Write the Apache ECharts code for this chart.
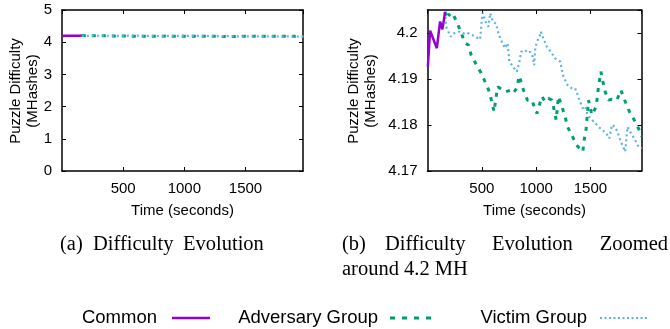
<!DOCTYPE html>
<html><head><meta charset="utf-8">
<script src="https://cdn.jsdelivr.net/npm/echarts@6/dist/echarts.min.js"></script>
<style>html,body{margin:0;padding:0;background:#fff}#c{width:670px;height:329px}</style>
</head><body><div id="c"></div>
<script>
// Common phase (time s, difficulty MH)
const commonT = [3, 24, 86, 116, 137, 162];
const commonV = [4.1927, 4.2005, 4.1967, 4.2025, 4.2008, 4.2046];
// Adversary group
const advT = [162,171,192,224,239,279,346,377,402,445,491,530,570,592,613,632,647,715,770,791,822,844,883,920,961,982,1007,1053,1083,1113,1145,1166,1184,1206,1237,1267,1289,1329,1369,1430,1442,1461,1482,1513,1553,1574,1596,1615,1636,1666,1697,1743,1780,1820,1859,1903,1958,1973];
const advV = [4.2046,4.2032,4.2041,4.2034,4.2039,4.2019,4.1978,4.1974,4.1952,4.1933,4.1914,4.1894,4.1872,4.1850,4.1829,4.1862,4.1883,4.1872,4.1876,4.1870,4.1880,4.1907,4.1876,4.1854,4.1854,4.1840,4.1825,4.1862,4.1851,4.1858,4.1854,4.1833,4.1811,4.1862,4.1840,4.1818,4.1796,4.1778,4.1757,4.1742,4.1767,4.1793,4.1854,4.1822,4.1840,4.1883,4.1916,4.1894,4.1872,4.1854,4.1856,4.1854,4.1876,4.1851,4.1829,4.1811,4.1785,4.1775];
// Victim group
const vicT = [162,171,192,215,239,270,294,325,362,408,448,484,500,509,540,561,577,601,632,653,684,715,736,754,786,822,846,862,899,920,945,970,982,991,1007,1031,1043,1067,1099,1136,1175,1221,1252,1289,1329,1359,1399,1430,1452,1473,1498,1544,1590,1645,1675,1697,1728,1749,1774,1820,1841,1866,1912,1942,1973];
const vicV = [4.2046,4.2014,4.2003,4.1992,4.1999,4.2001,4.2003,4.1999,4.2001,4.1996,4.1991,4.1986,4.2028,4.2044,4.2021,4.2014,4.2043,4.2025,4.2020,4.1999,4.1981,4.1967,4.1978,4.1938,4.1927,4.1916,4.1938,4.1959,4.1963,4.1957,4.1959,4.1948,4.1930,4.1963,4.1981,4.1992,4.2003,4.1988,4.1970,4.1959,4.1945,4.1938,4.1905,4.1887,4.1880,4.1880,4.1854,4.1836,4.1840,4.1822,4.1815,4.1804,4.1793,4.1782,4.1771,4.1800,4.1796,4.1785,4.1767,4.1742,4.1796,4.1785,4.1767,4.1753,4.1749];
// Axis settings
const xMax = 1970;
const xTickStep = 500;
const leftY = {min: 0, max: 5, step: 1};
const rightY = {min: 4.17, max: 4.205, step: 0.01};
const seriesNames = ['Common', 'Adversary Group', 'Victim Group'];
const captionA = ['(a)', 'Difficulty', 'Evolution'];
const captionB = ['(b)', 'Difficulty', 'Evolution', 'Zoomed'];
const captionB2 = 'around 4.2 MH';
const yName = ['Puzzle Difficulty', '(MHashes)'];
const xName = 'Time (seconds)';

const zip = (t, v) => t.map((x, i) => [x, v[i]]);
const C_PURPLE = '#9400d3', C_GREEN = '#009e73', C_BLUE = '#56b4e9';
const SANS = 'Liberation Sans, Arial, sans-serif';
const SERIF = 'Liberation Serif, Times New Roman, serif';

const grids = [
  {left: 62, top: 10, width: 241, height: 161},
  {left: 427.5, top: 10, width: 214, height: 161}
];
function xAxes(gi) {
  return [
    {type: 'value', gridIndex: gi, min: 0, max: xMax, interval: xTickStep, position: 'bottom',
     axisLine: {show: true, onZero: false, lineStyle: {color: '#000', width: 1.5}},
     axisTick: {inside: true, length: 4, lineStyle: {color: '#000', width: 1}},
     axisLabel: {color: '#000', fontFamily: SANS, fontSize: 15, margin: 10, showMinLabel: false, showMaxLabel: false, formatter: v => String(v)},
     splitLine: {show: false}},
    {type: 'value', gridIndex: gi, min: 0, max: xMax, interval: xTickStep, position: 'top',
     axisLine: {show: true, onZero: false, lineStyle: {color: '#000', width: 1.5}},
     axisTick: {inside: true, length: 4, lineStyle: {color: '#000', width: 1}},
     axisLabel: {show: false}, splitLine: {show: false}}
  ];
}
function yAxes(gi, y, fmt) {
  return [
    {type: 'value', gridIndex: gi, min: y.min, max: y.max, interval: y.step, position: 'left',
     axisLine: {show: true, onZero: false, lineStyle: {color: '#000', width: 1.5}},
     axisTick: {inside: true, length: 4, lineStyle: {color: '#000', width: 1}},
     axisLabel: {color: '#000', fontFamily: SANS, fontSize: 15, margin: 10, formatter: fmt, showMaxLabel: gi === 0},
     splitLine: {show: false}},
    {type: 'value', gridIndex: gi, min: y.min, max: y.max, interval: y.step, position: 'right',
     axisLine: {show: true, onZero: false, lineStyle: {color: '#000', width: 1.5}},
     axisTick: {inside: true, length: 4, lineStyle: {color: '#000', width: 1}},
     axisLabel: {show: false}, splitLine: {show: false}}
  ];
}
const fmtR = v => String(parseFloat(v.toFixed(2)));
function seriesFor(gi) {
  const xi = gi * 2, yi = gi * 2;
  return [
    {name: seriesNames[1], type: 'line', xAxisIndex: xi, yAxisIndex: yi, data: zip(advT, advV), symbol: 'none',
     lineStyle: {color: C_GREEN, width: 3, type: [4, 6]}, clip: true, silent: true, animation: false},
    {name: seriesNames[2], type: 'line', xAxisIndex: xi, yAxisIndex: yi, data: zip(vicT, vicV), symbol: 'none',
     lineStyle: {color: C_BLUE, width: 2.2, type: [2, 3]}, clip: true, silent: true, animation: false},
    {name: seriesNames[0], type: 'line', xAxisIndex: xi, yAxisIndex: yi, data: zip(commonT, commonV), symbol: 'none',
     lineStyle: {color: C_PURPLE, width: 2.5}, clip: true, silent: true, animation: false}
  ];
}

const graphic = [];
function ylabel(cx) {
  graphic.push({type: 'text', x: cx, y: 91, rotation: Math.PI / 2,
    style: {text: yName.join('\n'), fontFamily: SANS, fontSize: 15, lineHeight: 17, fill: '#000', align: 'center', verticalAlign: 'middle'}});
}
ylabel(24); ylabel(362);
graphic.push({type: 'text', x: 182.5, y: 211, style: {text: xName, fontFamily: SANS, fontSize: 15, fill: '#000', align: 'center', verticalAlign: 'middle'}});
graphic.push({type: 'text', x: 534.5, y: 211, style: {text: xName, fontFamily: SANS, fontSize: 15, fill: '#000', align: 'center', verticalAlign: 'middle'}});
const capAx = [60, 93, 183];
captionA.forEach((w, i) => graphic.push({type: 'text', x: capAx[i], y: 245, style: {text: w, fontFamily: SERIF, fontSize: 20.5, fill: '#000', align: 'left', verticalAlign: 'middle'}}));
const capBx = [342, 385, 492, 668];
captionB.forEach((w, i) => graphic.push({type: 'text', x: capBx[i], y: 245, style: {text: w, fontFamily: SERIF, fontSize: 20.5, fill: '#000', align: i === 3 ? 'right' : 'left', verticalAlign: 'middle'}}));
graphic.push({type: 'text', x: 342, y: 270, style: {text: captionB2, fontFamily: SERIF, fontSize: 20.5, fill: '#000', align: 'left', verticalAlign: 'middle'}});
// legend
const LY = 318;
const legendItems = [
  {tx: 157, x1: 172, x2: 210, color: C_PURPLE, w: 2.5, dash: null},
  {tx: 378, x1: 390, x2: 432, color: C_GREEN, w: 3, dash: [5, 7]},
  {tx: 587, x1: 600, x2: 647, color: C_BLUE, w: 2, dash: [2, 2.5]}
];
legendItems.forEach((it, i) => {
  graphic.push({type: 'text', x: it.tx, y: LY, style: {text: seriesNames[i], fontFamily: SANS, fontSize: 18.5, fill: '#000', align: 'right', verticalAlign: 'middle'}});
  graphic.push({type: 'line', shape: {x1: it.x1, y1: LY, x2: it.x2, y2: LY}, style: {stroke: it.color, lineWidth: it.w, lineDash: it.dash}});
});

const chart = echarts.init(document.getElementById('c'), null, {renderer: 'canvas'});
chart.setOption({
  animation: false,
  backgroundColor: '#fff',
  grid: grids,
  xAxis: [...xAxes(0), ...xAxes(1)],
  yAxis: [...yAxes(0, leftY, v => String(v)), ...yAxes(1, rightY, fmtR)],
  series: [...seriesFor(0), ...seriesFor(1)],
  graphic: graphic
});
</script></body></html>
